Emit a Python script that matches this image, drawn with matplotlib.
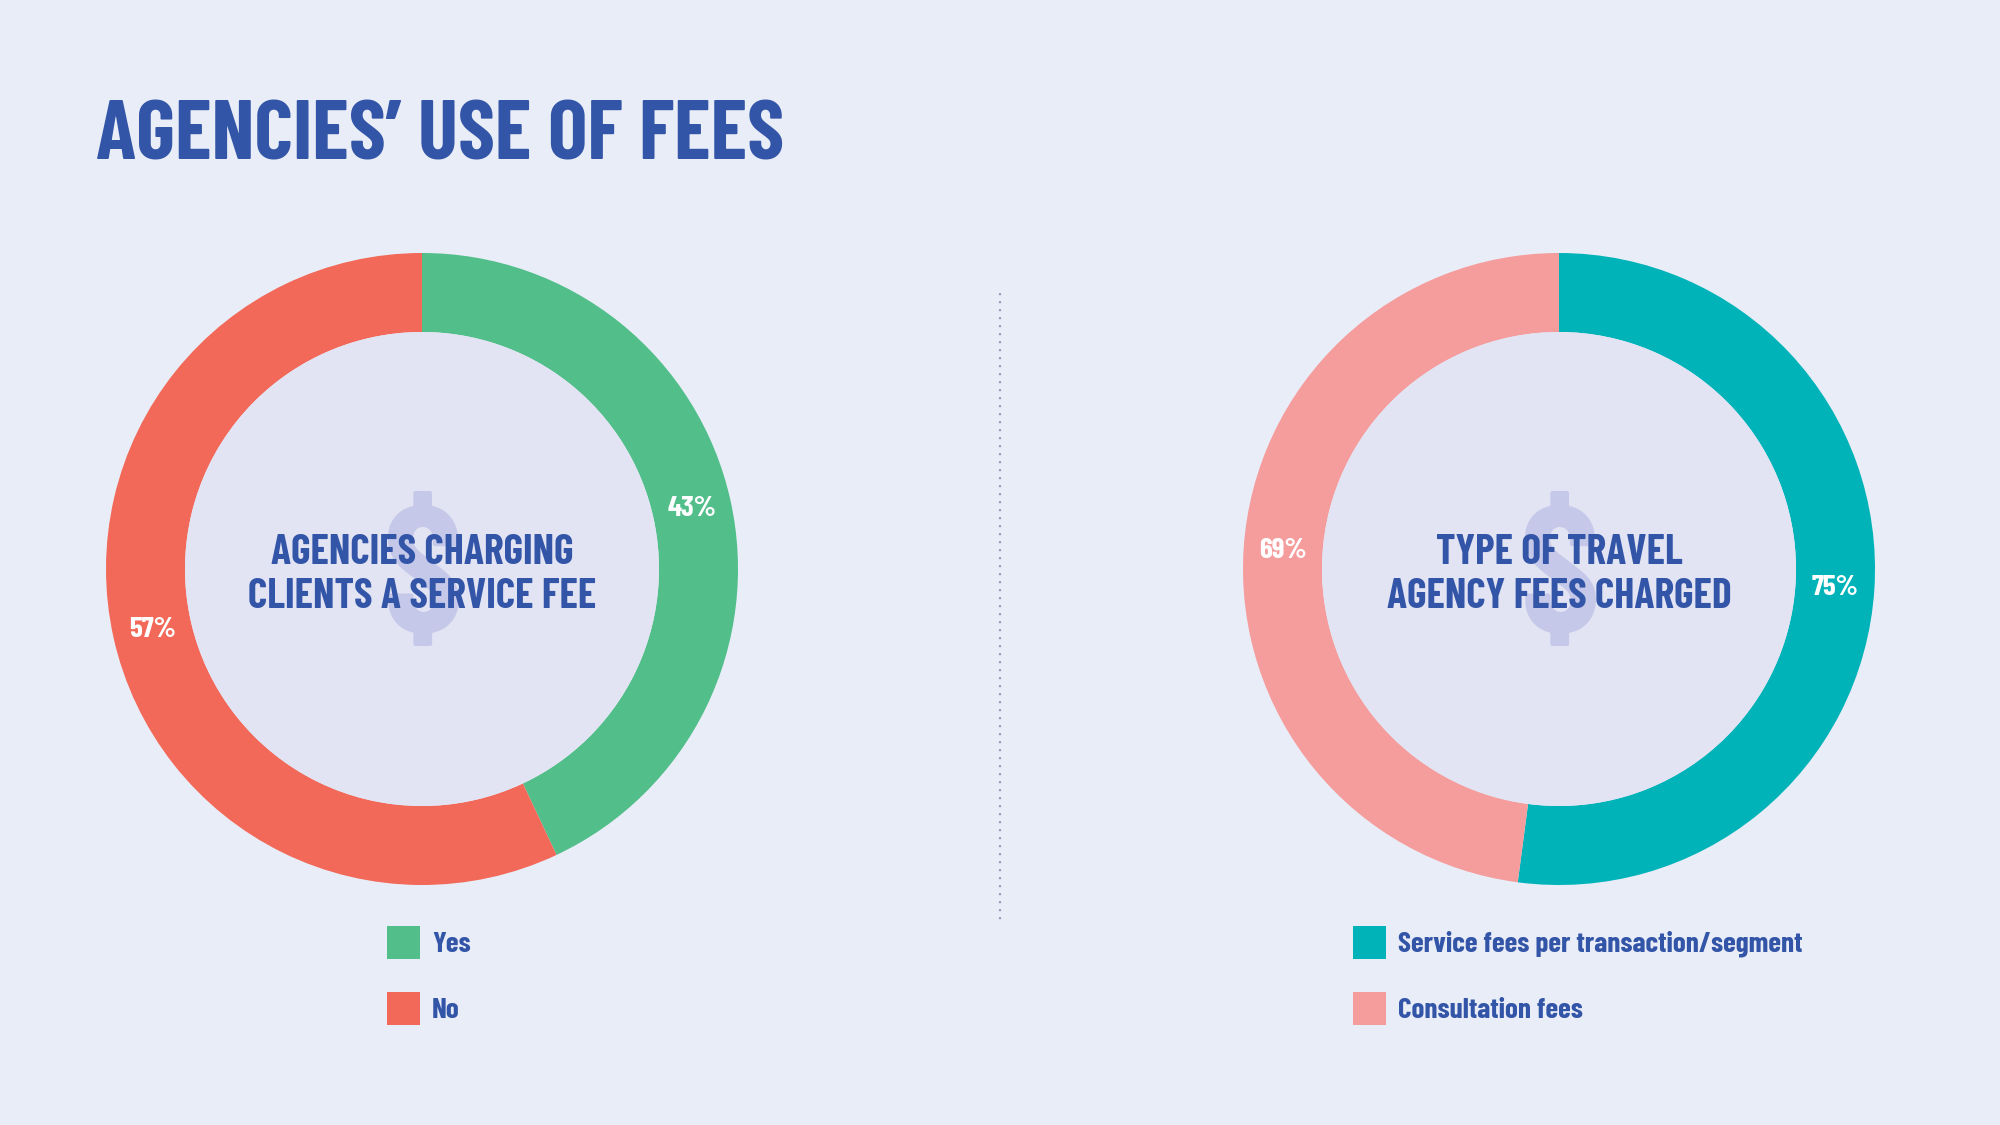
import matplotlib.pyplot as plt
from matplotlib.patches import Circle, Rectangle
import numpy as np

plt.rcParams['font.family'] = ['Barlow Condensed', 'Roboto Condensed', 'DejaVu Sans']

title = "AGENCIES\u2019 USE OF FEES"

left_title = "AGENCIES CHARGING\nCLIENTS A SERVICE FEE"
left_labels = ["Yes", "No"]
left_values = [43, 57]

right_title = "TYPE OF TRAVEL\nAGENCY FEES CHARGED"
right_labels = ["Service fees per transaction/segment", "Consultation fees"]
right_values = [75, 69]

BG = '#e9edf7'
INNER = '#e2e4f3'
BLUE = '#3355a8'
DOLLAR = '#c5c8e8'

W, H = 2000, 1125
fig = plt.figure(figsize=(20, 11.25), dpi=100, facecolor=BG)
bg = fig.add_axes([0, 0, 1, 1])
bg.set_xlim(0, W)
bg.set_ylim(H, 0)
bg.axis('off')

bg.text(96, 159, title, fontsize=60, fontweight='bold', color=BLUE, va='baseline', ha='left')

# dotted divider
bg.plot([1000, 1000], [293, 925], color='#9aa3c0', lw=1.6, linestyle=(0, (1, 2.6)))

R_OUT, R_IN = 316, 237


def donut(cx, cy, values, labels, colors, center_text, legend_x):
    half = 350
    ax = fig.add_axes([(cx - half) / W, (H - cy - half) / H, 2 * half / W, 2 * half / H])
    ax.set_facecolor('none')
    ax.pie(values, colors=colors, startangle=90, counterclock=False,
           radius=R_OUT, wedgeprops=dict(width=R_OUT - R_IN, linewidth=0))
    ax.add_patch(Circle((0, 0), R_IN, facecolor=INNER, edgecolor='none', zorder=3))
    ax.text(0, -16, "$", fontsize=130, fontweight='bold', color=DOLLAR,
            ha='center', va='center', zorder=4)
    ax.text(0, -6, center_text, fontsize=30, fontweight='bold', color=BLUE,
            ha='center', va='center', linespacing=1.2, zorder=5)
    # percent labels in the middle of each ring segment
    total = sum(values)
    cum = 0
    rmid = (R_OUT + R_IN) / 2
    for v in values:
        mid = 90 - (cum + v / 2) / total * 360
        cum += v
        a = np.deg2rad(mid)
        ax.text(rmid * np.cos(a), rmid * np.sin(a), f"{v}%", fontsize=21,
                fontweight='bold', color='white', ha='center', va='center', zorder=6)
    ax.set_xlim(-half, half)
    ax.set_ylim(-half, half)
    ax.set_aspect('equal')
    ax.axis('off')
    # legend
    for i, (lab, col) in enumerate(zip(labels, colors)):
        y = 926 + i * 66
        bg.add_patch(Rectangle((legend_x, y), 33, 33, facecolor=col, edgecolor='none'))
        bg.text(legend_x + 45, y + 18, lab, fontsize=21, fontweight='bold', color=BLUE,
                ha='left', va='center')


donut(422, 569, left_values, left_labels, ['#52be8a', '#f26959'], left_title, 387)
donut(1559, 569, right_values, right_labels, ['#00b3b8', '#f59c9c'], right_title, 1353)

fig.savefig('out.png', dpi=100, facecolor=BG)
